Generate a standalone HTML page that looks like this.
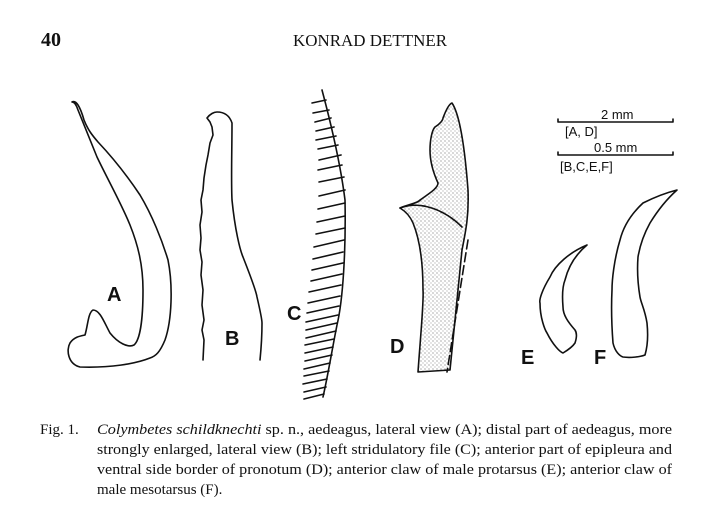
<!DOCTYPE html>
<html><head><meta charset="utf-8"><style>
html,body{margin:0;padding:0;background:#fff;}
svg{display:block;}
</style></head><body>
<svg width="712" height="513" viewBox="0 0 712 513" xmlns="http://www.w3.org/2000/svg">
<defs>
<pattern id="dots" width="4" height="4" patternUnits="userSpaceOnUse">
<circle cx="1" cy="1" r="0.55" fill="#444"/><circle cx="3" cy="3" r="0.45" fill="#666"/>
</pattern>
</defs>
<rect width="712" height="513" fill="#fff"/>
<text x="41" y="46" font-family="Liberation Serif, serif" font-size="20" font-weight="bold" fill="#111">40</text>
<text x="293" y="46" font-family="Liberation Serif, serif" font-size="17" fill="#111" textLength="154" lengthAdjust="spacingAndGlyphs">KONRAD DETTNER</text>

<g fill="none" stroke="#111" stroke-width="1.6" stroke-linejoin="round" stroke-linecap="round">
<!-- A -->
<path d="M72,102 C76,100 80,106 84,120 C88,130 92,135 98,142 C115,160 130,180 140,195 C152,215 162,240 168,260 C173,285 172,320 165,340 C160,352 156,356 150,358 C135,364 110,368 80,367 C68,364 66,350 70,343 C74,337 80,336 85,335 C88,325 88,313 93,310 C100,310 104,322 110,333 C118,343 128,348 134,345 C140,340 143,320 143,290 C143,265 138,245 130,225 C122,205 108,180 97,157 C90,140 84,125 78,110 C76,104 74,102 72,102 Z"/>
<!-- B -->
<path d="M203,360 L204,340 L202,330 L204,320 L202,305 L203,290 L201,275 L202,262 L200,250 L201,238 L200,225 L202,212 L201,200 L203,190 L204,178 L206,165 L208,155 L210,143 L213,135 L212,127 L210,122 L207,118 C210,114 214,112 217,112 C223,112 229,114 232,123 C232,150 231,180 232,200 C235,230 240,250 243,257 C250,275 256,290 257,297 C260,310 262,320 262,323 C262,340 261,350 260,360"/>
<!-- C spine -->
<path d="M322,90 C330,120 340,160 345,200 C346,250 343,300 337,325 C332,350 328,375 323,397"/>
<path d="M326,100 l-14,3 M329,110 l-16,3 M331,118 l-16,4 M334,127 l-18,4 M336,136 l-20,4 M338,145 l-20,4 M341,155 l-22,5 M342,165 l-24,5 M344,177 l-25,5 M345,190 l-26,6 M345,203 l-27,6 M345,216 l-28,6 M345,228 l-29,6 M344,240 l-30,7 M343,252 l-30,7 M343,263 l-31,7 M342,274 l-31,7 M341,285 l-32,7 M340,296 l-32,7 M339,306 l-32,7 M338,315 l-32,7 M337,323 l-31,7 M336,331 l-30,7 M334,339 l-29,6 M333,347 l-28,6 M332,355 l-27,6 M330,363 l-26,6 M329,371 l-25,5 M327,379 l-24,5 M326,387 l-22,5 M324,394 l-20,5"/>
<!-- D -->
<path d="M452,103 C460,115 465,150 468,190 C469,215 466,230 462,250 L450,370 L418,372 C421,330 424,300 423,290 C423,265 420,240 413,223 C410,216 405,211 400,208 C410,204 418,203 420,200 C430,193 438,188 438,183 C432,170 430,160 430,150 C430,140 432,130 435,127 C440,124 443,120 443,118 C446,110 449,104 452,103 Z" fill="url(#dots)"/>
<path d="M400,208 C420,200 445,210 462,227"/>
<path d="M468,240 L447,372" stroke-dasharray="9,4"/>
<!-- E -->
<path d="M587,245 C570,252 555,265 550,277 C542,290 539,300 540,303 C540,318 545,330 547,333 C553,345 560,352 563,353 C568,350 573,346 575,343 C577,337 577,333 575,330 C568,322 563,315 563,307 C562,295 563,285 565,280 C568,268 575,255 587,245 Z"/>
<!-- F -->
<path d="M677,190 C665,193 653,198 643,203 C630,215 623,228 620,240 C614,260 612,280 612,290 C611,310 612,330 613,343 C615,352 620,356 623,357 C630,358 640,357 645,355 C648,345 648,333 647,323 C645,310 641,303 640,297 C638,285 637,270 638,257 C640,245 645,232 650,223 C658,210 668,198 677,190 Z"/>
<!-- scale bars -->
<path d="M558,119 L558,122 L673,122 L673,119"/>
<path d="M558,152 L558,155 L673,155 L673,152"/>
</g>
<g font-family="Liberation Sans, sans-serif" fill="#111" font-size="13">
<text x="601" y="119">2 mm</text>
<text x="565" y="136">[A, D]</text>
<text x="594" y="152">0.5 mm</text>
<text x="560" y="171">[B,C,E,F]</text>
</g>
<g font-family="Liberation Sans, sans-serif" fill="#111" font-size="20" font-weight="bold">
<text x="107" y="301">A</text>
<text x="225" y="345">B</text>
<text x="287" y="320">C</text>
<text x="390" y="353">D</text>
<text x="521" y="364">E</text>
<text x="594" y="364">F</text>
</g>
<g font-family="Liberation Serif, serif" fill="#111" font-size="15">
<text x="40" y="434">Fig. 1.</text>
<text x="97" y="434" textLength="575" lengthAdjust="spacingAndGlyphs"><tspan font-style="italic">Colymbetes schildknechti</tspan> sp. n., aedeagus, lateral view (A); distal part of aedeagus, more</text>
<text x="97" y="454" textLength="575" lengthAdjust="spacingAndGlyphs">strongly enlarged, lateral view (B); left stridulatory file (C); anterior part of epipleura and</text>
<text x="97" y="474" textLength="575" lengthAdjust="spacingAndGlyphs">ventral side border of pronotum (D); anterior claw of male protarsus (E); anterior claw of</text>
<text x="97" y="494">male mesotarsus (F).</text>
</g>
</svg>
</body></html>
